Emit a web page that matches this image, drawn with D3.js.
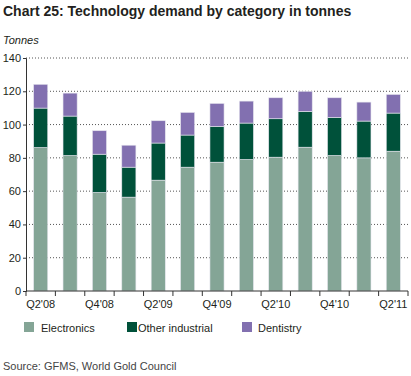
<!DOCTYPE html>
<html>
<head>
<meta charset="utf-8">
<script src="https://cdn.jsdelivr.net/npm/d3@7"></script>
<style>
  body { margin: 0; background: #fff; }
  svg { font-family: "Liberation Sans", Arial, sans-serif; }
</style>
</head>
<body>
<svg id="chart"></svg>
<script>
// quarters on the x axis
const quarters = ["Q2'08", "Q3'08", "Q4'08", "Q1'09", "Q2'09", "Q3'09", "Q4'09",
                  "Q1'10", "Q2'10", "Q3'10", "Q4'10", "Q1'11", "Q2'11"];
// tonnes per category
const electronics = [86.2, 81.4, 59.2, 56.4, 66.6, 74.4, 77.4, 79.0, 80.4, 86.4, 81.4, 80.0, 84.0];
const otherIndustrial = [23.7, 23.7, 23.0, 18.0, 22.3, 19.3, 21.5, 21.9, 23.1, 21.5, 22.9, 22.1, 22.9];
const dentistry = [14.3, 13.8, 14.1, 13.2, 13.4, 13.6, 13.8, 13.2, 12.6, 12.1, 11.8, 11.4, 11.2];
const seriesNames = ["Electronics", "Other industrial", "Dentistry"];
const yTicks = [0, 20, 40, 60, 80, 100, 120, 140];

const W = 411, H = 376;
const margin = {top: 58, right: 3, bottom: 85, left: 26};
const width = W - margin.left - margin.right;
const height = H - margin.top - margin.bottom;
const colors = ["#84a596", "#00513a", "#8270b0"];

const svg = d3.select("#chart").attr("width", W).attr("height", H);

// title
svg.append("text")
    .attr("x", 3).attr("y", 16)
    .attr("font-size", 14).attr("font-weight", "bold")
    .attr("fill", "#231f20")
    .text("Chart 25: Technology demand by category in tonnes");

svg.append("text")
    .attr("x", 3).attr("y", 44)
    .attr("font-size", 11).attr("font-style", "italic")
    .attr("fill", "#231f20")
    .text("Tonnes");

const chart = svg.append("g")
    .attr("transform", `translate(${margin.left}, ${margin.top})`);

// scales
const x = d3.scaleBand().domain(quarters).range([0, width]).paddingInner(0.52).paddingOuter(0.26);
const y = d3.scaleLinear().domain([0, 140]).range([height, 0]);

// gridlines
chart.selectAll(".grid")
    .data(yTicks.filter(d => d > 0))
    .enter().append("line")
        .attr("x1", 0).attr("x2", width)
        .attr("y1", d => y(d)).attr("y2", d => y(d))
        .attr("stroke", "#555")
        .attr("stroke-width", 1)
        .attr("stroke-dasharray", "1,2");

// stack the data
const table = quarters.map((q, i) => ({
    quarter: q,
    "Electronics": electronics[i],
    "Other industrial": otherIndustrial[i],
    "Dentistry": dentistry[i]
}));
const stacked = d3.stack().keys(seriesNames)(table);

chart.selectAll(".series")
    .data(stacked)
    .enter().append("g")
        .attr("fill", (d, i) => colors[i])
    .selectAll("rect")
    .data(d => d)
    .enter().append("rect")
        .attr("x", d => x(d.data.quarter))
        .attr("y", d => y(d[1]))
        .attr("width", x.bandwidth())
        .attr("height", d => y(d[0]) - y(d[1]))
        .attr("stroke", "#e6e6ee")
        .attr("stroke-width", 0.6);

// y axis
const yAxis = d3.axisLeft(y).tickValues(yTicks).tickSize(3).tickPadding(2);
const gy = chart.append("g").call(yAxis);
gy.select(".domain").attr("stroke", "#333");
gy.selectAll(".tick line").attr("stroke", "#333");
gy.selectAll("text").attr("font-size", 11).attr("fill", "#231f20")
    .attr("font-family", "Liberation Sans, Arial, sans-serif");

// x axis: ticks at band boundaries, labels every second quarter
const xAxisG = chart.append("g").attr("transform", `translate(0, ${height})`);
xAxisG.append("line")
    .attr("x1", 0).attr("x2", width)
    .attr("stroke", "#333");
const step = x.step();
const boundaries = d3.range(quarters.length + 1).map(i => i * step);
xAxisG.selectAll(".xt")
    .data(boundaries)
    .enter().append("line")
        .attr("x1", d => d).attr("x2", d => d)
        .attr("y1", 0).attr("y2", 5)
        .attr("stroke", "#333");
xAxisG.selectAll(".xl")
    .data(quarters.filter((q, i) => i % 2 === 0))
    .enter().append("text")
        .attr("x", d => x(d) + x.bandwidth() / 2)
        .attr("y", 17)
        .attr("text-anchor", "middle")
        .attr("font-size", 11)
        .attr("fill", "#231f20")
        .text(d => d);

// legend
const legendX = [24, 127, 242];
const legend = svg.selectAll(".legend")
    .data(seriesNames)
    .enter().append("g")
        .attr("transform", (d, i) => `translate(${legendX[i]}, 322)`);
legend.append("rect")
    .attr("width", 10).attr("height", 10)
    .attr("fill", (d, i) => colors[i]);
legend.append("text")
    .attr("x", (d, i) => i === 2 ? 16 : i === 1 ? 11 : 17)
    .attr("y", 9.5)
    .attr("font-size", 11)
    .attr("fill", "#231f20")
    .text(d => d);

// source
svg.append("text")
    .attr("x", 3).attr("y", 370)
    .attr("font-size", 11)
    .attr("fill", "#444")
    .text("Source: GFMS, World Gold Council");
</script>
</body>
</html>
